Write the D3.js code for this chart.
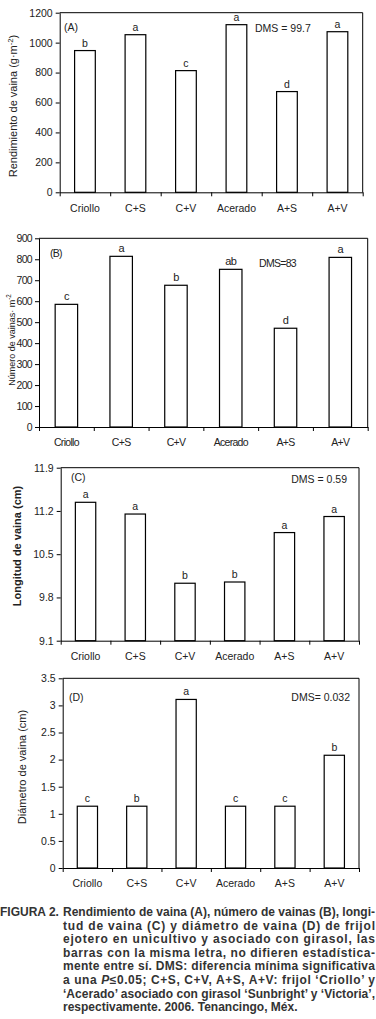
<!DOCTYPE html>
<html>
<head>
<meta charset="utf-8">
<script src="https://cdn.jsdelivr.net/npm/d3@7"></script>
<style>
  body { margin: 0; background: #fff; }
  svg { display: block; font-family: "Liberation Sans", Arial, sans-serif; }
</style>
</head>
<body>
<svg id="fig" width="376" height="1019"></svg>
<script>
// categorias (tratamientos)
var tratamientos = ["Criollo", "C+S", "C+V", "Acerado", "A+S", "A+V"];

// (A) rendimiento de vaina
var rendimiento = [947, 1053, 813, 1120, 673, 1073];
var letrasA = ["b", "a", "c", "a", "d", "a"];
var ticksA = [0, 200, 400, 600, 800, 1000, 1200];

// (B) numero de vainas
var numVainas = [585, 814, 676, 752, 471, 809];
var letrasB = ["c", "a", "b", "ab", "d", "a"];
var ticksB = [0, 100, 200, 300, 400, 500, 600, 700, 800, 900];

// (C) longitud de vaina
var longitud = [11.34, 11.15, 10.03, 10.05, 10.85, 11.11];
var letrasC = ["a", "a", "b", "b", "a", "a"];
var ticksC = [9.1, 9.8, 10.5, 11.2, 11.9];

// (D) diametro de vaina
var diametro = [1.14, 1.14, 3.11, 1.14, 1.14, 2.08];
var letrasD = ["c", "b", "a", "c", "c", "b"];
var ticksD = [0, 0.5, 1, 1.5, 2, 2.5, 3, 3.5];

var svg = d3.select("#fig");

function drawPanel(cfg) {
  var g = svg.append("g").attr("class", "panel");
  var x = d3.scaleBand().domain(tratamientos).range([cfg.left, cfg.right]).padding(0);
  var xEdges = d3.scaleLinear().domain([0, tratamientos.length]).range([cfg.left, cfg.right]);
  var y = d3.scaleLinear().domain(cfg.domain).range([cfg.bottom, cfg.top]);
  var barW = x.step() * 0.41;
  var ls = cfg.spacing || 0;

  // marco (top + right)
  g.append("path")
    .attr("d", "M" + cfg.left + "," + y(cfg.domain[1]) + "H" + cfg.right + "V" + y(cfg.domain[0]))
    .attr("fill", "none").attr("stroke", "#000").attr("stroke-width", 1);

  // barras
  g.selectAll("rect.bar")
    .data(cfg.values)
    .enter().append("rect")
    .attr("class", "bar")
    .attr("x", function(d, i) { return x(tratamientos[i]) + (x.bandwidth() - barW) / 2; })
    .attr("y", function(d) { return y(d); })
    .attr("width", barW)
    .attr("height", function(d) { return y(cfg.domain[0]) - y(d); })
    .attr("fill", "#fff").attr("stroke", "#000").attr("stroke-width", 1.2);

  // letras
  g.selectAll("text.letra")
    .data(cfg.values)
    .enter().append("text")
    .attr("class", "letra")
    .attr("x", function(d, i) { return x(tratamientos[i]) + x.bandwidth() / 2; })
    .attr("y", function(d) { return y(d) - 4; })
    .attr("text-anchor", "middle")
    .attr("font-size", cfg.letterSize || 10.5)
    .attr("letter-spacing", ls)
    .attr("fill", "#222")
    .text(function(d, i) { return cfg.letras[i]; });

  // eje y
  var yAxis = g.append("g")
    .attr("transform", "translate(" + cfg.left + ",0)")
    .call(d3.axisLeft(y).tickValues(cfg.ticks).tickSize(4).tickSizeOuter(0).tickPadding(3).tickFormat(cfg.fmt));
  yAxis.selectAll("text").attr("font-size", 10.5).attr("fill", "#222").attr("letter-spacing", ls)
    .attr("font-family", "Liberation Sans, Arial, sans-serif");
  yAxis.select(".domain").attr("stroke-width", 1);

  // eje x: ticks en los limites de las categorias
  var xTicks = g.append("g")
    .attr("transform", "translate(0," + cfg.bottom + ")")
    .call(d3.axisBottom(xEdges).tickValues(d3.range(0, tratamientos.length + 1)).tickSize(4).tickSizeOuter(0).tickFormat(""));
  xTicks.select(".domain").attr("stroke-width", 1);

  var xLab = g.append("g")
    .attr("transform", "translate(0," + cfg.bottom + ")")
    .call(d3.axisBottom(x).tickSize(0).tickPadding(cfg.xPad || 12));
  xLab.select(".domain").remove();
  xLab.selectAll("text").attr("font-size", 10.5).attr("fill", "#222").attr("letter-spacing", ls)
    .attr("font-family", "Liberation Sans, Arial, sans-serif");

  // etiqueta panel y DMS
  g.append("text")
    .attr("x", cfg.tagX).attr("y", cfg.tagY)
    .attr("font-size", 10.5).attr("fill", "#222").attr("letter-spacing", ls)
    .text(cfg.tag);
  g.append("text")
    .attr("x", cfg.dmsX).attr("y", cfg.dmsY)
    .attr("text-anchor", cfg.dmsAnchor || "start")
    .attr("font-size", 10.5).attr("fill", "#222").attr("letter-spacing", ls)
    .text(cfg.dms);

  // titulo eje y
  var yt = g.append("text")
    .attr("transform", "translate(" + cfg.ylabX + "," + cfg.ylabY + ") rotate(-90)")
    .attr("text-anchor", "middle")
    .attr("font-size", cfg.ylabSize || 10.5)
    .attr("font-weight", cfg.ylabWeight || "normal")
    .attr("fill", "#222");
  yt.append("tspan").text(cfg.ylab);
  if (cfg.ylabSup) {
    yt.append("tspan").attr("dy", -4).attr("font-size", (cfg.ylabSize || 10.5) * 0.7).text(cfg.ylabSup);
    yt.append("tspan").attr("dy", 4).text(")" === cfg.ylabEnd ? ")" : (cfg.ylabEnd || ""));
  }
}

drawPanel({
  values: rendimiento, letras: letrasA, ticks: ticksA, domain: [0, 1200],
  left: 59.7, right: 362.7, top: 12.7, bottom: 192.3,
  fmt: d3.format("d"),
  tag: "(A)", tagX: 64, tagY: 31,
  dms: "DMS = 99.7", dmsX: 255, dmsY: 32,
  ylab: "Rendimiento de vaina (g·m", ylabSup: "-2", ylabEnd: ")",
  ylabX: 17, ylabY: 106, ylabSize: 11
});

drawPanel({
  values: numVainas, letras: letrasB, ticks: ticksB, domain: [0, 900],
  left: 39, right: 367.7, top: 238.3, bottom: 427,
  fmt: d3.format("d"), spacing: -0.7, letterSize: 11,
  tag: "(B)", tagX: 50, tagY: 257,
  dms: "DMS=83", dmsX: 259, dmsY: 267,
  ylab: "Número de vainas· m", ylabSup: "-2", ylabEnd: "",
  ylabX: 15, ylabY: 340, ylabSize: 9
});

drawPanel({
  values: longitud, letras: letrasC, ticks: ticksC, domain: [9.1, 11.9],
  left: 60.7, right: 359, top: 467.7, bottom: 640.7,
  fmt: d3.format(".1f"),
  tag: "(C)", tagX: 71, tagY: 481,
  dms: "DMS = 0.59", dmsX: 347, dmsY: 483, dmsAnchor: "end",
  ylab: "Longitud de vaina (cm)",
  ylabX: 21, ylabY: 546, ylabSize: 11, ylabWeight: "bold"
});

drawPanel({
  values: diametro, letras: letrasD, ticks: ticksD, domain: [0, 3.5],
  left: 62.7, right: 359, top: 678.3, bottom: 868,
  fmt: function(d) { return String(d); },
  tag: "(D)", tagX: 69, tagY: 701,
  dms: "DMS= 0.032", dmsX: 350, dmsY: 701, dmsAnchor: "end",
  ylab: "Diámetro de vaina (cm)",
  ylabX: 26, ylabY: 767, ylabSize: 11
});

// pie de figura
var captionLines = [
  "Rendimiento de vaina (A), número de vainas (B), longi-",
  "tud de vaina (C) y diámetro de vaina (D) de frijol",
  "ejotero en unicultivo y asociado con girasol, las",
  "barras con la misma letra, no difieren estadística-",
  "mente entre sí. DMS: diferencia mínima significativa",
  ["a una ", "P", "≤0.05; C+S, C+V, A+S, A+V: frijol ‘Criollo’ y"],
  "‘Acerado’ asociado con girasol ‘Sunbright’ y ‘Victoria’,",
  "respectivamente. 2006. Tenancingo, Méx."
];

var cap = svg.append("g")
  .attr("font-size", 12).attr("font-weight", "bold").attr("fill", "#333");

cap.append("text").attr("x", 0).attr("y", 916).text("FIGURA 2.");

captionLines.forEach(function(line, i) {
  var t = cap.append("text").attr("x", 63).attr("y", 916 + i * 13.6);
  if (Array.isArray(line)) {
    line.forEach(function(part, j) {
      t.append("tspan").attr("font-style", j === 1 ? "italic" : "normal").text(part);
    });
  } else {
    t.text(line);
  }
  if (i < captionLines.length - 1) {
    t.attr("textLength", 312).attr("lengthAdjust", "spacing");
  }
});
</script>
</body>
</html>
